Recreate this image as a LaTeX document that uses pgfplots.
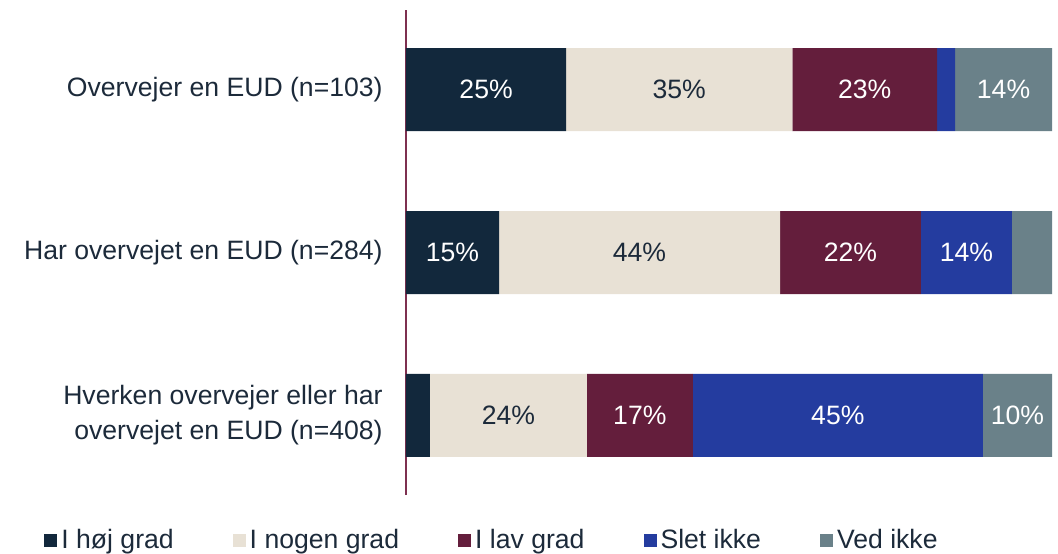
\documentclass[border=0pt]{standalone}
\usepackage{pgfplots}
\pgfplotsset{compat=1.18}
\usepackage{fontspec}
\setmainfont{Liberation Sans}

\definecolor{hoej}{HTML}{12283C}
\definecolor{nogen}{HTML}{E8E1D5}
\definecolor{lav}{HTML}{641E3C}
\definecolor{slet}{HTML}{243C9F}
\definecolor{ved}{HTML}{6A8189}
\definecolor{axisred}{HTML}{7E3050}
\definecolor{txt}{HTML}{1C2A3A}

\newcommand{\lblfont}{\fontsize{13.3}{17.5}\selectfont}

\begin{document}
\begin{tikzpicture}
\begin{axis}[
  xbar stacked, bar width=41.5pt,
  scale only axis, width=323pt, height=242.5pt,
  xmin=0, xmax=100, ymin=-0.49, ymax=2.49,
  axis x line=none, axis y line*=left,
  y axis line style={draw=axisred, line width=0.9pt},
  ytick={0,1,2},
  yticklabels={{Hverken overvejer eller har\\overvejet en EUD (n=408)},
               {Har overvejet en EUD (n=284)},
               {Overvejer en EUD (n=103)}},
  yticklabel style={align=right, font=\lblfont, text=txt, inner sep=0pt, xshift=-11.5pt},
  major tick length=0pt,
  point meta=explicit symbolic,
  nodes near coords={\pgfplotspointmeta},
  every node near coord/.append style={anchor=center, font=\lblfont},
  legend image code/.code={\fill[#1] (0pt,-3.25pt) rectangle (6.5pt,3.25pt);},
  legend columns=5,
  legend style={at={(-0.5604,-0.093)}, anchor=west, draw=none, fill=none,
    inner xsep=0pt, inner ysep=0pt, font=\lblfont, text=txt,
    /tikz/every even column/.append style={column sep=27.5pt}},
  clip=false,
]
\addplot[fill=hoej, draw=none, every node near coord/.append style={text=white}]
  table[x=x, y=y, meta=lab] {
y x lab
2 24.8 25\%
1 14.4 15\%
0 3.7 {}
};
\addplot[fill=nogen, draw=none, every node near coord/.append style={text=txt}]
  table[x=x, y=y, meta=lab] {
y x lab
2 35.0 35\%
1 43.5 44\%
0 24.3 24\%
};
\addplot[fill=lav, draw=none, every node near coord/.append style={text=white}]
  table[x=x, y=y, meta=lab] {
y x lab
2 22.4 23\%
1 21.8 22\%
0 16.4 17\%
};
\addplot[fill=slet, draw=none, every node near coord/.append style={text=white}]
  table[x=x, y=y, meta=lab] {
y x lab
2 2.8 {}
1 14.1 14\%
0 44.9 45\%
};
\addplot[fill=ved, draw=none, every node near coord/.append style={text=white}]
  table[x=x, y=y, meta=lab] {
y x lab
2 15.0 14\%
1 6.2 {}
0 10.7 10\%
};
\legend{I høj grad, I nogen grad, I lav grad, Slet ikke, Ved ikke}
\coordinate (sw) at (rel axis cs:0,0);
\end{axis}
\pgfresetboundingbox
\path ([shift={(-203pt,-29pt)}]sw) rectangle ([shift={(326pt,247.5pt)}]sw);
\end{tikzpicture}
\end{document}
